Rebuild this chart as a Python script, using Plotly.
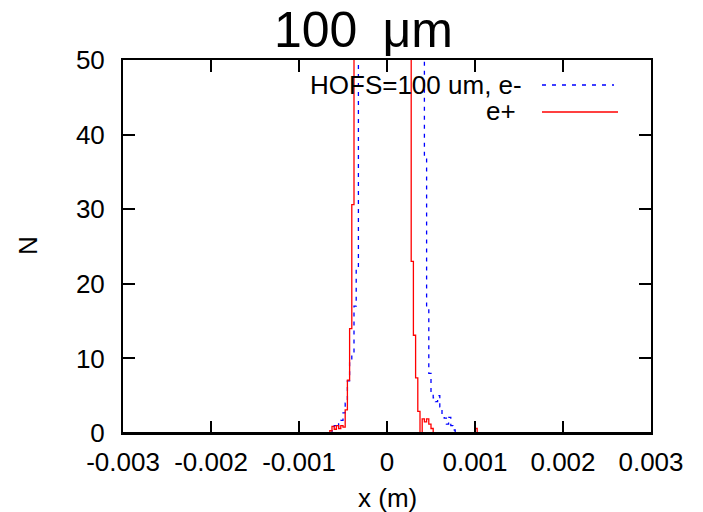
import plotly.graph_objects as go

# ---- data (histogram, bin width 25 um, counts per bin) ----
bin_width = 25e-6

# e- (HOFS=100 um) : first bin index and counts
eminus_first_bin = -26
eminus_counts = [
    0, 0.3, 1.0, 0.7, 1.5, 1.7, 2.7, 4, 7, 9.5, 10.7, 17, 22,
    58, 88, 130, 175, 220, 265, 305, 335, 360, 378, 390, 398, 403, 406, 408,
    408, 406, 403, 398, 390, 378, 360, 335, 305, 265, 220, 175, 130, 88, 60,
    37, 16.9, 8, 5.4, 4.7, 4.2, 5, 3.5, 2.4, 2.0, 1.2, 2.1, 1.0, 0.4, 0, 0,
]

# e+ : first bin index and counts
eplus_first_bin = -27
eplus_counts = [
    0, 0.3, 0.9, 0.5, 1.0, 0.6, 1.0, 0.8, 3.1, 7.1, 14, 30.6,
    62, 95, 140, 190, 240, 290, 330, 360, 385, 400, 410, 415, 418,
    418, 415, 410, 400, 385, 360, 330, 290, 240, 190, 140, 95, 62,
    23, 13.1, 7.4, 2.9, 0, 1.9, 1.5, 1.9, 1.2, 0.6,
    0, 0, 0, 0, 0, 0, 0, 0, 0, 0, 0, 0, 0, 0, 0, 0, 0, 0, 0,
    0.6, 0,
]

series_names = ["HOFS=100 um, e-", "e+"]
x_tick_vals = [-0.003, -0.002, -0.001, 0, 0.001, 0.002, 0.003]
x_tick_text = ["-0.003", "-0.002", "-0.001", "0", "0.001", "0.002", "0.003"]
y_tick_vals = [0, 10, 20, 30, 40, 50]
title_text = "100\u2002\u03bcm"
x_label = "x (m)"
y_label = "N"


def centers(first, counts):
    return [(first + i + 0.5) * bin_width for i in range(len(counts))]


FONT = "Liberation Sans, Arial, sans-serif"

fig = go.Figure()
fig.add_trace(go.Scatter(
    x=centers(eminus_first_bin, eminus_counts), y=eminus_counts,
    mode="lines", line=dict(shape="hvh", color="#0000ff", width=1.3, dash="4px,5px"),
    name=series_names[0], showlegend=False, hoverinfo="skip",
))
fig.add_trace(go.Scatter(
    x=centers(eplus_first_bin, eplus_counts), y=eplus_counts,
    mode="lines", line=dict(shape="hvh", color="#ff0000", width=1.3),
    name=series_names[1], showlegend=False, hoverinfo="skip",
))

# plot area in pixels: x 123..651, y 60..433
W, H = 703, 512
L, R, T, B = 123, 52, 60, 79
pw, ph = W - L - R, H - T - B


def px(xp):
    return (xp - L) / pw


def py(yp):
    return (H - B - yp) / ph


axis_common = dict(
    showgrid=False, zeroline=False, showline=True, linecolor="black", linewidth=2,
    mirror="allticks", ticks="inside", ticklen=12, tickwidth=2, tickcolor="black",
    tickfont=dict(family=FONT, size=26, color="black"), layer="above traces",
)

fig.update_layout(
    width=W, height=H,
    margin=dict(l=L, r=R, t=T, b=B),
    paper_bgcolor="white", plot_bgcolor="white",
    xaxis=dict(range=[-0.003, 0.003], tickvals=x_tick_vals, ticktext=x_tick_text,
               ticklabelstandoff=5, **axis_common),
    yaxis=dict(range=[0, 50], tickvals=y_tick_vals, ticklabelstandoff=11, **axis_common),
    showlegend=False,
)

annotations = [
    dict(text=title_text, x=px(363), y=py(30), xref="paper", yref="paper",
         xanchor="center", yanchor="middle", showarrow=False,
         font=dict(family=FONT, size=50, color="black")),
    dict(text=x_label, x=px(387), y=py(498), xref="paper", yref="paper",
         xanchor="center", yanchor="middle", showarrow=False,
         font=dict(family=FONT, size=26, color="black")),
    dict(text=y_label, x=px(28), y=py(246), xref="paper", yref="paper",
         xanchor="center", yanchor="middle", showarrow=False, textangle=-90,
         font=dict(family=FONT, size=26, color="black")),
    dict(text=series_names[0], x=px(524), y=py(85), xref="paper", yref="paper",
         xanchor="right", yanchor="middle", showarrow=False,
         font=dict(family=FONT, size=26, color="black")),
    dict(text=series_names[1], x=px(518), y=py(111), xref="paper", yref="paper",
         xanchor="right", yanchor="middle", showarrow=False,
         font=dict(family=FONT, size=26, color="black")),
]
fig.update_layout(annotations=annotations)

# bottom frame line drawn above the traces (hides the zero-count baseline, as in the original)
fig.add_shape(type="line", xref="paper", yref="paper", layer="above",
              x0=0, x1=1, y0=0, y1=0, line=dict(color="black", width=2))

# legend samples (gnuplot style: text on the left, line sample on the right)
fig.add_shape(type="line", xref="paper", yref="paper",
              x0=px(542), x1=px(614), y0=py(85), y1=py(85),
              line=dict(color="#0000ff", width=1.3, dash="4px,6px"))
fig.add_shape(type="line", xref="paper", yref="paper",
              x0=px(542), x1=px(618), y0=py(112), y1=py(112),
              line=dict(color="#ff0000", width=1.3))

fig.write_html("out.html")
